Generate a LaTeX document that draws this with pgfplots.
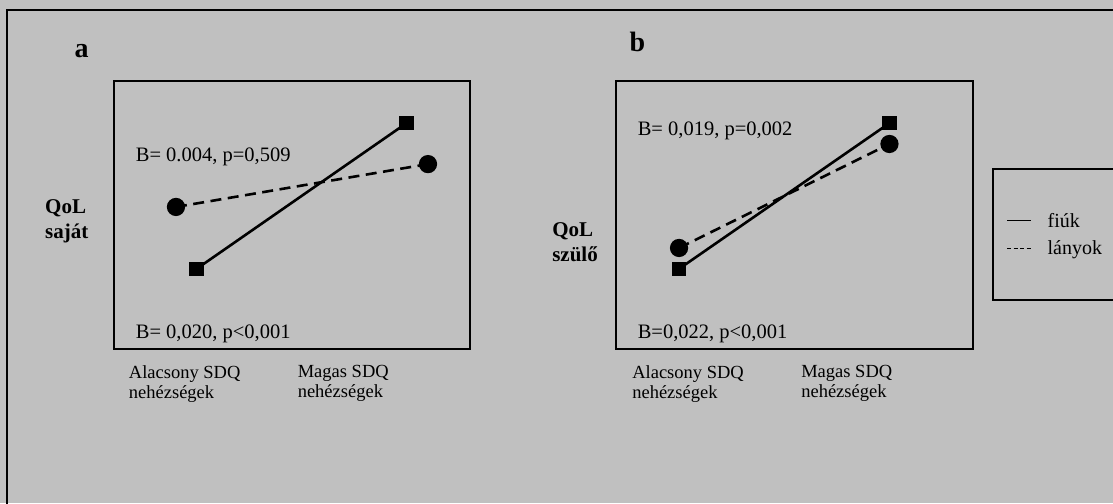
\documentclass[border=0pt]{standalone}
\usepackage{pgfplots}
\pgfplotsset{compat=1.18}
\usepackage{fontspec}
\setmainfont{Liberation Serif}
\definecolor{bg}{HTML}{C0C0C0}
\begin{document}
\begin{tikzpicture}[x=1pt,y=1pt]
\path[use as bounding box] (0,0) rectangle (1113,-503);
\clip (0,0) rectangle (1113,-503);
\fill[bg] (0,0) rectangle (1113,-503);
\draw[line width=2pt] (7,-520) -- (7,-10) -- (1130,-10);
\pgfplotsset{
  panel/.style={
    scale only axis, width=356.4pt, height=268pt,
    anchor=south west,
    ymin=0, ymax=10,
    ytick=\empty,
    major tick length=0pt,
    axis line style={line width=1.8pt},
    xticklabel style={anchor=north west, align=left, inner sep=0pt,
      font=\fontsize{18.5}{20}\selectfont, yshift=-16pt},
    clip=false,
    ylabel style={rotate=-90, anchor=west, align=left, inner sep=0pt,
      font=\fontsize{21}{25}\selectfont\bfseries},
  },
  fiuk/.style={black, line width=2.6pt, mark=square*, mark size=6pt, mark options={solid}},
  lanyok/.style={black, line width=2.6pt, dash pattern=on 11pt off 6.5pt, mark=*, mark size=7.8pt, mark options={solid}},
}
% panel a
\begin{axis}[panel, at={(113.6pt,-349pt)},
  xmin=-0.395, xmax=1.302,
  xtick={-0.323,0.481},
  xticklabels={{Alacsony SDQ\\nehézségek},{Magas SDQ\\nehézségek}},
  ylabel={QoL\\saját},
  ylabel style={at={(axis description cs:-0.1925,0.475)}},
]
\addplot[fiuk] coordinates {(0,2.99) (1,8.43)};
\addplot[lanyok] coordinates {(-0.098,5.30) (1.102,6.90)};
\node[anchor=base west, inner sep=0pt, font=\fontsize{20.5}{24}\selectfont] at (axis cs:-0.29,7.01) {B= 0.004, p=0,509};
\node[anchor=base west, inner sep=0pt, font=\fontsize{20.5}{24}\selectfont] at (axis cs:-0.29,0.41) {B= 0,020, p<0,001};
\end{axis}
% panel b
\begin{axis}[panel, at={(615.7pt,-349pt)}, width=357.3pt,
  xmin=-0.301, xmax=1.397,
  xtick={-0.223,0.580},
  xticklabels={{Alacsony SDQ\\nehézségek},{Magas SDQ\\nehézségek}},
  ylabel={QoL\\szülő},
  ylabel style={at={(axis description cs:-0.178,0.40)}},
  legend image code/.code={\draw[#1] (0pt,0pt) -- (24pt,0pt);},
  legend cell align=left,
  legend style={at={(rel axis cs:1.053,0.675)}, anchor=north west,
    draw=black, line width=1.8pt, fill=none,
    inner xsep=14pt, inner ysep=42pt, row sep=8pt, column sep=14pt,
    font=\fontsize{20}{23}\selectfont},
]
\addplot[fiuk, forget plot] coordinates {(0,2.99) (1,8.43)};
\addplot[lanyok, forget plot] coordinates {(0,3.77) (1,7.65)};
\addlegendimage{black, line width=0.8pt, solid}
\addlegendentry{fiúk}
\addlegendimage{black, line width=0.8pt, dash pattern=on 4pt off 2.5pt}
\addlegendentry{lányok\hspace*{20pt}}
\node[anchor=base west, inner sep=0pt, font=\fontsize{20.5}{24}\selectfont] at (axis cs:-0.197,7.95) {B= 0,019, p=0,002};
\node[anchor=base west, inner sep=0pt, font=\fontsize{20.5}{24}\selectfont] at (axis cs:-0.197,0.41) {B=0,022, p<0,001};
\end{axis}
\node[anchor=base, inner sep=0pt, font=\fontsize{28}{30}\selectfont\bfseries] at (81.5,-57) {a};
\node[anchor=base, inner sep=0pt, font=\fontsize{28}{30}\selectfont\bfseries] at (637.5,-52) {b};
\end{tikzpicture}
\end{document}
